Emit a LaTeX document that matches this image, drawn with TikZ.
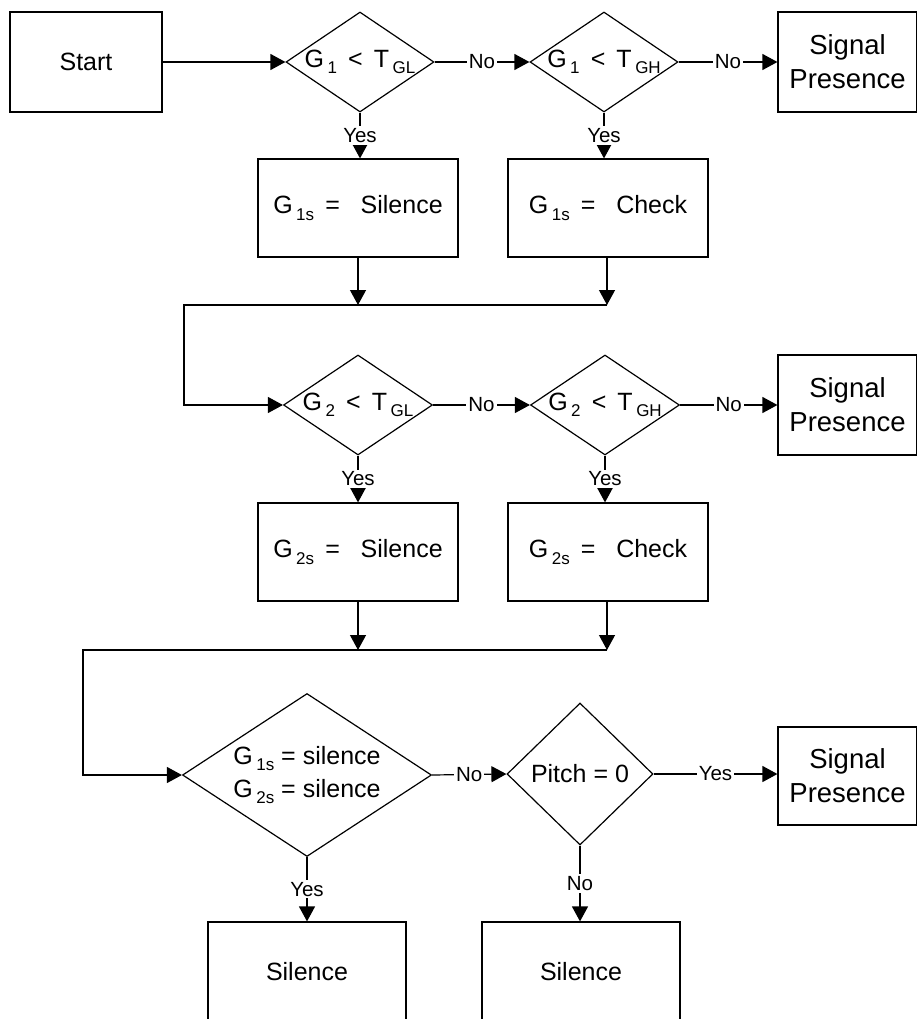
\documentclass[tikz,border=0pt]{standalone}
\usepackage{fontspec}
\setmainfont{Liberation Sans}
\usetikzlibrary{shapes.geometric, arrows.meta}

% lowered, smaller index text (G_1, T_GL, ...)
\newcommand\idx[1]{\kern3.5pt\raisebox{-6.5pt}{\fontsize{17}{17}\selectfont #1}}

\begin{document}
\begin{tikzpicture}[x=1pt, y=-1pt, line width=1.2pt,
  >={Triangle[length=15pt,width=16pt]},
  font=\fontsize{25}{33}\selectfont,
  box/.style={draw, rectangle, inner sep=0pt, align=center,
              minimum width=200pt, minimum height=98pt},
  sigbox/.style={box, minimum width=139pt, font=\fontsize{27.5}{34}\selectfont},
  decision/.style={draw, diamond, inner sep=0pt},
  lbl/.style={fill=white, inner sep=2pt, font=\fontsize{20.5}{20.5}\selectfont}]

\useasboundingbox (0,0) rectangle (917,1019);

% ---- first gain test ----
\node[box, minimum width=152pt, minimum height=100pt] (start) at (86,62) {Start};
\node[decision, minimum width=148pt, minimum height=100pt,
      label=center:{G\idx{1}\ \,<\ \,T\idx{GL}}] (d1) at (360,62) {};
\node[decision, minimum width=148pt, minimum height=100pt,
      label=center:{G\idx{1}\ \,<\ \,T\idx{GH}}] (d2) at (604,62) {};
\node[sigbox, minimum height=100pt] (sp1) at (847.5,62) {Signal\\Presence};
\node[box] (b1) at (358,208) {G\idx{1s}\ \,=\ \ \ Silence};
\node[box] (b2) at (608,208) {G\idx{1s}\ \,=\ \ \ Check};

\draw[->] (start.east) -- (d1.west);
\draw[->] (d1.east) -- node[lbl]{No} (d2.west);
\draw[->] (d2.east) -- node[lbl]{No} (sp1.west);
\draw[->] (d1.south) -- node[lbl]{Yes} (d1.south |- b1.north);
\draw[->] (d2.south) -- node[lbl]{Yes} (d2.south |- b2.north);

\coordinate (j1) at (607,305);
\coordinate (j1l) at (184,305);
\draw[->] (b1.south) -- (b1.south |- j1);
\draw[->] (j1 |- b2.south) -- (j1);

% ---- second gain test ----
\node[decision, minimum width=149pt, minimum height=100pt,
      label=center:{G\idx{2}\ \,<\ \,T\idx{GL}}] (d3) at (358,405) {};
\node[decision, minimum width=149pt, minimum height=100pt,
      label=center:{G\idx{2}\ \,<\ \,T\idx{GH}}] (d4) at (605,405) {};
\node[sigbox, minimum height=100pt] (sp2) at (847.5,405) {Signal\\Presence};
\node[box] (b3) at (358,552) {G\idx{2s}\ \,=\ \ \ Silence};
\node[box] (b4) at (608,552) {G\idx{2s}\ \,=\ \ \ Check};

\draw[->] (j1) -- (j1l) |- (d3.west);
\draw[->] (d3.east) -- node[lbl]{No} (d4.west);
\draw[->] (d4.east) -- node[lbl]{No} (sp2.west);
\draw[->] (d3.south) -- node[lbl]{Yes} (d3.south |- b3.north);
\draw[->] (d4.south) -- node[lbl]{Yes} (d4.south |- b4.north);

\coordinate (j2) at (607,650);
\coordinate (j2l) at (83,650);
\draw[->] (b3.south) -- (b3.south |- j2);
\draw[->] (j2 |- b4.south) -- (j2);

% ---- final decision ----
\node[decision, minimum width=249pt, minimum height=163pt,
      label={[align=left]center:{G\idx{1s} = silence\\G\idx{2s} = silence}}] (d5) at (307,775) {};
\node[decision, minimum width=146pt, minimum height=142pt,
      label=center:{Pitch = 0}] (d6) at (580,774) {};
\node[sigbox] (sp3) at (847.5,776) {Signal\\Presence};
\node[box, minimum width=198pt, minimum height=100pt] (s1) at (307,972) {Silence};
\node[box, minimum width=198pt, minimum height=100pt] (s2) at (581,972) {Silence};

\draw[->] (j2) -- (j2l) |- (d5.west);
\draw[->] (d5.east) -- node[lbl]{No} (d6.west);
\draw[->] (d6.east) -- node[lbl]{Yes} (sp3.west |- d6.east);
\draw[->] (d5.south) -- node[lbl]{Yes} (d5.south |- s1.north);
\draw[->] (d6.south) -- node[lbl]{No} (d6.south |- s2.north);

\end{tikzpicture}
\end{document}
